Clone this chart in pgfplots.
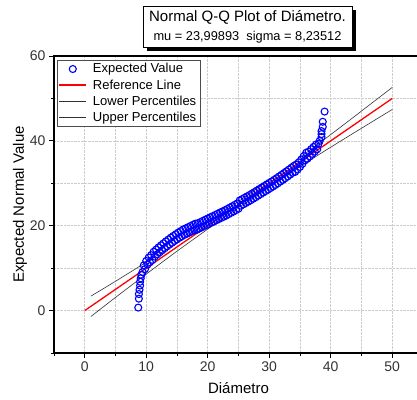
\documentclass[border=0pt]{standalone}
\usepackage{fontspec}
\setmainfont{Liberation Sans}
\usepackage{pgfplots}
\pgfplotsset{compat=1.18}
\begin{document}
\begin{tikzpicture}
\begin{axis}[
  at={(0,0)}, anchor=south west,
  scale only axis, width=369pt, height=297pt,
  xmin=-5, xmax=55, ymin=-10, ymax=60,
  xtick={0,10,...,50}, ytick={0,20,40,60},
  minor xtick={-5,5,15,25,35,45},
  minor ytick={-10,10,30,50},
  xtick pos=bottom, ytick pos=left,
  tick align=outside,
  major tick length=5pt, minor tick length=3pt,
  every tick/.style={black, line width=0.9pt},
  axis line style={line width=1.3pt},
  grid=both,
  major grid style={densely dotted, gray!40, line width=0.6pt},
  minor grid style={densely dotted, gray!40, line width=0.6pt},
  /pgf/number format/assume math mode=true,
  tick label style={font=\fontsize{14}{16}\selectfont, text=black!80},
  xlabel={Diámetro}, ylabel={Expected Normal Value},
  label style={font=\fontsize{15}{17}\selectfont},
  xlabel style={at={(axis description cs:0.5,0)}, anchor=center, yshift=-35pt},
  ylabel style={at={(axis description cs:-0.092,0.5)}, anchor=center},
  legend cell align=left,
  legend style={at={(rel axis cs:0.008,0.987)}, anchor=north west,
    font=\fontsize{13}{15}\selectfont, draw=black!70,
    inner sep=1.5pt, row sep=1.2pt,
    /tikz/every odd column/.append style={column sep=4pt}},
  legend image code/.code={\draw[mark repeat=2,mark phase=2,#1] plot coordinates {(0pt,0pt) (13.5pt,0pt) (27pt,0pt)};},
]
\addplot[only marks, mark=o, mark size=3.5pt, blue, mark options={line width=1.1pt}] coordinates {
(8.7,0.7) (8.8,2.8) (8.8,3.9) (8.9,4.9) (9.0,5.9) (9.0,6.8) (9.1,7.6) (9.2,8.4) (9.4,9.1)
(9.6,10.66) (10.0,11.7) (10.4,12.51) (10.8,13.07) (11.2,13.86) (11.6,14.38) (12.0,14.9)
(12.4,15.38) (12.8,15.86) (13.2,16.32) (13.6,16.76) (14.0,17.2) (14.4,17.6) (14.8,18.0)
(15.2,18.38) (15.6,18.74) (16.0,19.1) (16.4,19.38) (16.8,19.66) (17.2,19.94) (17.6,20.22)
(18.0,20.5) (18.4,20.58) (18.8,20.86) (19.2,21.14) (19.6,21.42) (20.0,21.7) (20.4,21.98)
(20.8,22.26) (21.2,22.54) (21.6,22.82) (22.0,23.1) (22.4,23.38) (22.8,23.66) (23.2,23.96)
(23.6,24.28) (24.0,24.6) (24.4,24.92) (24.8,25.24) (25.2,25.96) (25.6,26.28) (26.0,26.6)
(26.4,26.92) (26.8,27.24) (27.2,27.58) (27.6,27.94) (28.0,28.3) (28.4,28.66) (28.8,29.02)
(29.2,29.38) (29.6,29.74) (30.0,30.1) (30.4,30.46) (30.8,30.82) (31.2,31.2) (31.6,31.6)
(32.0,32.0) (32.4,32.4) (32.8,32.8) (33.2,33.22) (33.6,33.66) (34.0,34.1) (34.4,34.36)
(34.8,34.92) (35.2,35.6) (35.6,36.4) (36.0,37.2) (36.4,37.46) (36.8,38.02) (37.2,38.58)
(37.6,39.14)
(9.8,9.78) (10.2,10.83) (10.6,11.39) (11.0,11.94) (11.4,12.72) (11.8,13.24) (12.2,13.74)
(12.6,14.22) (13.0,14.69) (13.4,15.14) (13.8,15.58) (14.2,16.0) (14.6,16.4) (15.0,16.79)
(15.4,17.16) (15.8,17.52) (16.2,17.84) (16.6,18.12) (17.0,18.4) (17.4,18.68) (17.8,18.96)
(18.2,19.04) (18.6,19.32) (19.0,19.6) (19.4,19.88) (19.8,20.16) (20.2,20.44) (20.6,20.72)
(21.0,21.0) (21.4,21.28) (21.8,21.56) (22.2,21.84) (22.6,22.12) (23.0,22.41) (23.4,22.72)
(23.8,23.04) (24.2,23.36) (24.6,23.68) (25.0,24.0) (25.4,24.72) (25.8,25.04) (26.2,25.36)
(26.6,25.68) (27.0,26.01) (27.4,26.36) (27.8,26.72) (28.2,27.08) (28.6,27.44) (29.0,27.8)
(29.4,28.16) (29.8,28.52) (30.2,28.88) (30.6,29.24) (31.0,29.61) (31.4,30.0) (31.8,30.4)
(32.2,30.8) (32.6,31.2) (33.0,31.61) (33.4,32.04) (33.8,32.48) (34.2,32.68) (34.6,33.24)
(35.0,33.86) (35.4,34.6) (35.8,35.4) (36.2,35.78) (36.6,36.34) (37.0,36.9) (37.4,37.46)
(37.8,38.02)
(38.0,39.3) (38.2,40.0) (38.5,40.9) (38.5,41.6) (38.5,42.3) (38.7,43.3) (38.7,44.5) (39.0,46.9)
};
\addlegendentry{Expected Value}
\addplot[red, line width=1.3pt] coordinates {(0,0) (50,50)};
\addlegendentry{Reference Line}
\addplot[black!80, line width=0.6pt, smooth, tension=0.4] coordinates {
(1,-1.4) (5,3.1) (10,8.6) (15,14.0) (20,19.2) (24,23.3) (28,27.2) (33,32.0) (38,36.7) (43,41.2) (50,47.4)};
\addlegendentry{Lower Percentiles}
\addplot[black!80, line width=0.6pt, smooth, tension=0.4] coordinates {
(1,3.4) (5,6.9) (10,11.4) (15,16.0) (20,20.8) (24,24.7) (28,28.8) (33,34.0) (38,39.3) (43,44.8) (50,52.6)};
\addlegendentry{Upper Percentiles}
\end{axis}
% title box
\fill[black] (93pt,302pt) rectangle (302pt,343pt);
\filldraw[fill=white, draw=black, line width=0.6pt] (89pt,306pt) rectangle (298pt,347pt);
\node[font=\fontsize{15}{17}\selectfont] at (193.5pt,336pt) {Normal Q-Q Plot of Diámetro.};
\node[font=\fontsize{12.8}{14}\selectfont] at (193.5pt,316pt) {mu = 23,99893\ \ sigma = 8,23512};
\pgfresetboundingbox
\path[use as bounding box] (-54pt,-46pt) rectangle (363pt,353pt);
\end{tikzpicture}
\end{document}
